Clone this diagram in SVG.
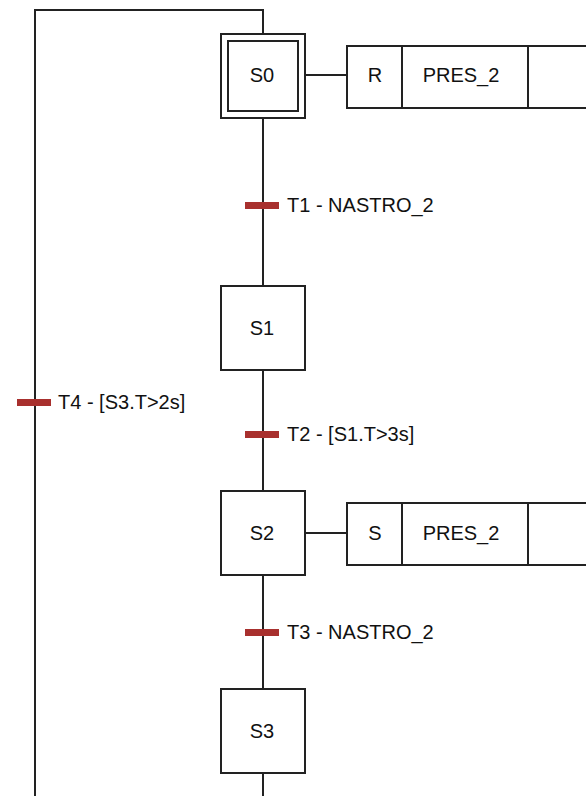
<svg xmlns="http://www.w3.org/2000/svg" width="586" height="796" viewBox="0 0 586 796">
<style>
.box{fill:#fff;stroke:#222;stroke-width:2}
.ln{fill:none;stroke:#222;stroke-width:2}
.tr{fill:#a8302e}
text{font-family:"Liberation Sans",Arial,sans-serif;font-size:20px;fill:#111}
.c{text-anchor:middle}
</style>
<rect width="586" height="796" fill="#fff"/>
<g id="connectors">
<path class="ln" d="M263 33 V10 H35 V796"/>
<path class="ln" d="M263 118 V286 M263 370 V491 M263 575 V689 M263 773 V796"/>
<path class="ln" d="M306 75 H347 M306 533 H347"/>
</g>
<g id="S0">
<rect class="box" x="221" y="34" width="84" height="84"/>
<rect class="box" x="228" y="41" width="70" height="70"/>
<text class="c" x="262" y="82">S0</text>
</g>
<g id="A0">
<path class="box" d="M590 46 H347 V108 H590"/>
<path class="ln" d="M402 46 V108 M528 46 V108"/>
<text class="c" x="375" y="82">R</text>
<text class="c" x="461" y="82">PRES_2</text>
</g>
<g id="T1">
<rect class="tr" x="245" y="202" width="34" height="7"/>
<text x="287" y="212">T1 - NASTRO_2</text>
</g>
<g id="S1">
<rect class="box" x="221" y="286" width="84" height="84"/>
<text class="c" x="262" y="335">S1</text>
</g>
<g id="T2">
<rect class="tr" x="245" y="431" width="34" height="7"/>
<text x="287" y="441">T2 - [S1.T&gt;3s]</text>
</g>
<g id="S2">
<rect class="box" x="221" y="491" width="84" height="84"/>
<text class="c" x="262" y="540">S2</text>
</g>
<g id="A2">
<path class="box" d="M590 503 H347 V565 H590"/>
<path class="ln" d="M402 503 V565 M528 503 V565"/>
<text class="c" x="375" y="540">S</text>
<text class="c" x="461" y="540">PRES_2</text>
</g>
<g id="T3">
<rect class="tr" x="245" y="629" width="34" height="7"/>
<text x="287" y="639">T3 - NASTRO_2</text>
</g>
<g id="S3">
<rect class="box" x="221" y="689" width="84" height="84"/>
<text class="c" x="262" y="738">S3</text>
</g>
<g id="T4">
<rect class="tr" x="17" y="399" width="34" height="7"/>
<text x="58" y="409">T4 - [S3.T&gt;2s]</text>
</g>
</svg>
